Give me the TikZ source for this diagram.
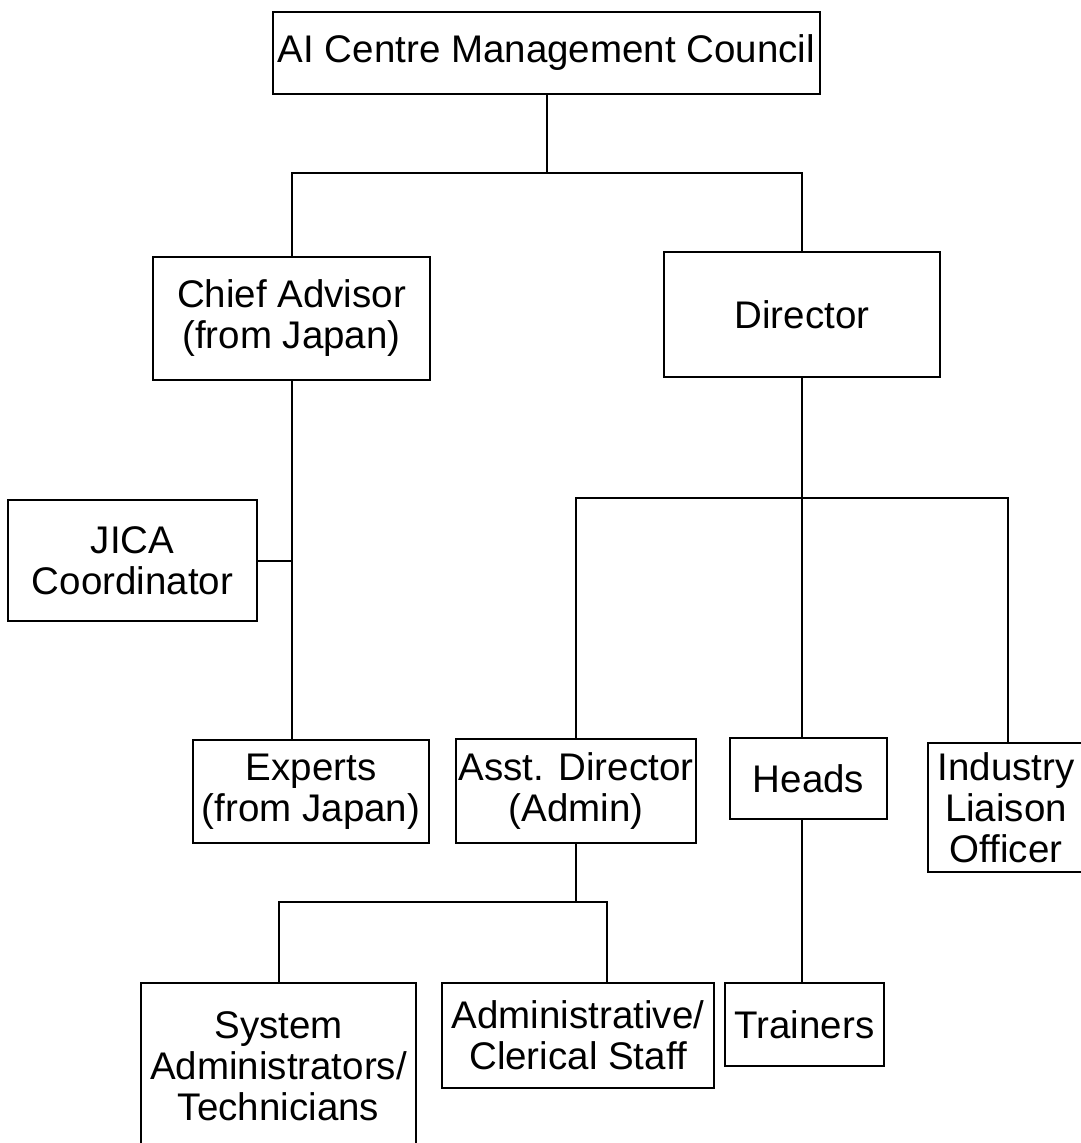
\documentclass[tikz,border=0pt]{standalone}
\usepackage{fontspec}
\setmainfont{Liberation Sans}
\begin{document}
\begin{tikzpicture}[x=1pt,y=-1pt,
  orgbox/.style={draw=black, line width=2.4pt, rectangle, inner sep=0pt, align=center,
    font=\fontsize{38.5}{41}\selectfont},
  link/.style={draw=black, line width=2pt}]
\useasboundingbox[fill=white] (0,0) rectangle (1080,1143);
% boxes
\node[orgbox, minimum width=547pt, minimum height=82pt] (council) at (546.5,53) {AI Centre Management Council};
\node[orgbox, minimum width=277pt, minimum height=123pt] (chief) at (291.5,318.5) {Chief Advisor\\(from Japan)};
\node[orgbox, minimum width=276pt, minimum height=125pt] (director) at (802,314.5) {Director};
\node[orgbox, minimum width=249pt, minimum height=121pt] (jica) at (132.5,560.5) {JICA\\Coordinator};
\node[orgbox, minimum width=236pt, minimum height=103pt] (experts) at (311,791.5) {Experts\\(from Japan)};
\node[orgbox, minimum width=240pt, minimum height=104pt] (asst) at (576,791) {Asst. Director\\(Admin)};
\node[orgbox, minimum width=157pt, minimum height=81pt] (heads) at (808.5,778.5) {Heads};
\node[orgbox, minimum width=200pt, minimum height=129pt,
  label={[font=\fontsize{38.5}{41}\selectfont, align=center, xshift=-22pt]center:Industry\\Liaison\\Officer}]
  (industry) at (1028,807.5) {};
\node[orgbox, minimum width=275pt, minimum height=167pt] (sys) at (278.5,1066.5) {System\\Administrators/\\Technicians};
\node[orgbox, minimum width=272pt, minimum height=105pt] (admin) at (578,1035.5) {Administrative/\\Clerical Staff};
\node[orgbox, minimum width=159pt, minimum height=83pt] (trainers) at (804.5,1024.5) {Trainers};
% junction coordinates
\coordinate (t1) at (0,173);
\coordinate (t2) at (0,498);
\coordinate (t3) at (0,902);
\coordinate (a3) at (607,902);
\coordinate (ind) at (1008,743);
% connectors
\draw[link] (council.south) -- (council.south |- t1);
\draw[link] (chief.north) -- (chief.north |- t1) -- (director.north |- t1) -- (director.north);
\draw[link] (chief.south) -- (chief.south |- experts.north);
\draw[link] (jica.east) -- (jica.east -| chief.south);
\draw[link] (director.south) -- (director.south |- heads.north);
\draw[link] (asst.north) -- (asst.north |- t2) -- (ind |- t2) -- (ind |- industry.north);
\draw[link] (heads.south -| director.south) -- (trainers.north -| director.south);
\draw[link] (asst.south) -- (asst.south |- t3);
\draw[link] (sys.north) -- (sys.north |- t3) -- (a3) -- (a3 |- admin.north);
\end{tikzpicture}
\end{document}
